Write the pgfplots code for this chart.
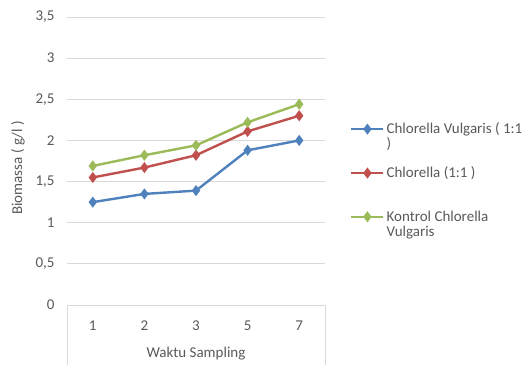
\documentclass[border=0pt]{standalone}
\usepackage{pgfplots}
\pgfplotsset{compat=1.18}
\usepackage{fontspec}
\setmainfont{Carlito}
\definecolor{xlblue}{HTML}{4F81BD}
\definecolor{xlred}{HTML}{C0504D}
\definecolor{xlgreen}{HTML}{9BBB59}
\definecolor{txt}{HTML}{595959}
\definecolor{gridc}{HTML}{D9D9D9}
\begin{document}
\begin{tikzpicture}
\begin{axis}[
  at={(0,0)}, anchor=south west,
  scale only axis, width=258pt, height=288pt,
  xmin=-0.5, xmax=4.5, ymin=0, ymax=3.5,
  xtick={0,1,2,3,4}, xticklabels={1,2,3,5,7},
  ytick={0,0.5,1,1.5,2,2.5,3,3.5},
  yticklabels={0,{0,5},1,{1,5},2,{2,5},3,{3,5}},
  axis line style={draw=none},
  major tick length=0pt,
  ymajorgrids, grid style={gridc, line width=0.8pt},
  tick label style={font=\fontsize{15}{17}\selectfont, text=txt},
  xticklabel style={yshift=-12pt},
  yticklabel style={xshift=-9pt},
  label style={font=\fontsize{15}{17}\selectfont, text=txt},
  xlabel={Waktu Sampling},
  ylabel={Biomassa ( g/l )},
  xlabel style={at={(axis description cs:0.5,0)}, yshift=-49pt, anchor=center},
  ylabel style={at={(axis description cs:-0.19,0.476)}, anchor=center},
  clip=false,
  legend cell align=left,
  legend image code/.code={\draw[mark repeat=2,mark phase=2] plot coordinates {(0pt,0pt) (16pt,0pt) (32pt,0pt)};},
  legend style={draw=none, fill=none, inner sep=0pt, anchor=north west,
    at={(axis description cs:1.097,0.64)}, row sep=27.5pt,
    font=\fontsize{15}{17}\selectfont, text=txt,
    nodes={inner sep=2pt}},
  every axis plot/.append style={line width=2.4pt, mark=diamond*, mark size=3.6pt, mark options={solid}},
]
\draw[gridc, line width=0.8pt] (rel axis cs:0,0) -- (rel axis cs:0,-0.3);
\draw[gridc, line width=0.8pt] (rel axis cs:1,0) -- (rel axis cs:1,-0.3);
\addplot[color=xlblue] coordinates {(0,1.25) (1,1.35) (2,1.39) (3,1.88) (4,2.00)};
\addlegendentry{\rlap{\smash{\raisebox{-15pt}{)}}}Chlorella Vulgaris ( 1:1}
\addplot[color=xlred] coordinates {(0,1.55) (1,1.67) (2,1.82) (3,2.11) (4,2.30)};
\addlegendentry{Chlorella (1:1 )}
\addplot[color=xlgreen] coordinates {(0,1.69) (1,1.82) (2,1.94) (3,2.22) (4,2.44)};
\addlegendentry{\rlap{\smash{\raisebox{-15pt}{Vulgaris}}}Kontrol Chlorella}
\end{axis}
\pgfresetboundingbox
\path ([shift={(-67pt,-59pt)}]current axis.south west) rectangle ([shift={(201pt,17pt)}]current axis.north east);
\end{tikzpicture}
\end{document}
